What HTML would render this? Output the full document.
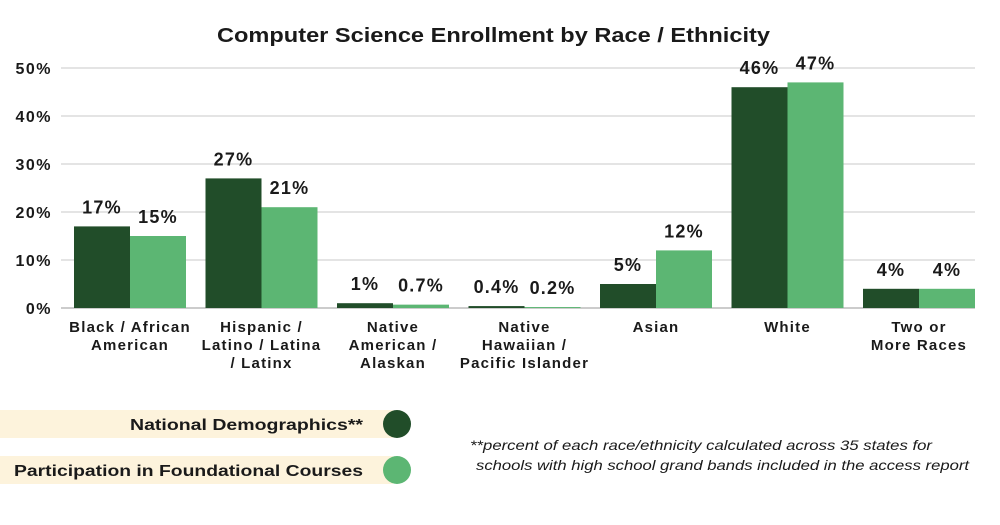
<!DOCTYPE html>
<html><head><meta charset="utf-8"><style>
body{margin:0;background:#fff;font-family:"Liberation Sans",sans-serif}
svg text{font-family:"Liberation Sans",sans-serif;fill:#1a1a1a}
</style></head><body>
<svg width="1000" height="520" id="c">
<text x="217" y="42" textLength="553" lengthAdjust="spacingAndGlyphs" font-size="20" font-weight="bold">Computer Science Enrollment by Race / Ethnicity</text>
<g id="grid"></g><g id="bars"></g><g id="labels"></g>
<g>
<rect x="0" y="410" width="393" height="28" fill="#fdf3dc"/>
<text x="130" y="430" textLength="233" lengthAdjust="spacingAndGlyphs" font-size="16" font-weight="bold">National Demographics**</text>
<circle cx="397" cy="424" r="14" fill="#214d29"/>
<rect x="0" y="456" width="393" height="28" fill="#fdf3dc"/>
<text x="14" y="476" textLength="349" lengthAdjust="spacingAndGlyphs" font-size="16" font-weight="bold">Participation in Foundational Courses</text>
<circle cx="397" cy="470" r="14" fill="#5cb673"/>
</g>
<text x="470" y="450" textLength="462" lengthAdjust="spacingAndGlyphs" font-size="14" font-style="italic">**percent of each race/ethnicity calculated across 35 states for</text>
<text x="476" y="470" textLength="493" lengthAdjust="spacingAndGlyphs" font-size="14" font-style="italic">schools with high school grand bands included in the access report</text>
</svg>
<script>
const categories=[["Black / African","American"],["Hispanic /","Latino / Latina","/ Latinx"],["Native","American /","Alaskan"],["Native","Hawaiian /","Pacific Islander"],["Asian"],["White"],["Two or","More Races"]];
const national=[17,27,1,0.4,5,46,4];
const participation=[15,21,0.7,0.2,12,47,4];
const nationalLabels=["17%","27%","1%","0.4%","5%","46%","4%"];
const participationLabels=["15%","21%","0.7%","0.2%","12%","47%","4%"];
const yTicks=[0,10,20,30,40,50];
const NS="http://www.w3.org/2000/svg";
const y0=308,pxPer=4.8,x0=130,pitch=131.5,bw=56;
const y=v=>y0-v*pxPer;
const xc=i=>x0+i*pitch;
function mk(t,a,p){const e=document.createElementNS(NS,t);for(const k in a)e.setAttribute(k,a[k]);p.appendChild(e);return e;}
const grid=document.getElementById('grid'),bars=document.getElementById('bars'),labels=document.getElementById('labels');
yTicks.forEach(t=>{
const l=mk('line',{x1:61,x2:975,y1:y(t),y2:y(t),stroke:t==0?'#999':'#c8c8c8','stroke-width':1},grid);


const tx=mk('text',{x:52,y:y(t)+6,'text-anchor':'end','font-size':16,'font-weight':'bold','letter-spacing':1.5},grid);
tx.textContent=t+'%';


});
categories.forEach((c,i)=>{
[[national,'#214d29',-bw,nationalLabels,'national'],[participation,'#5cb673',0,participationLabels,'participation']].forEach(([arr,col,off,lab,nm])=>{
const v=arr[i];
const r=mk('rect',{x:xc(i)+off,y:y(v),width:bw,height:v*pxPer,fill:col},bars);


const t=mk('text',{x:xc(i)+off+bw/2,y:y(v)-13,'text-anchor':'middle','font-size':18,'font-weight':'bold',fill:'#333','letter-spacing':1.2},labels);
t.textContent=lab[i];


});
c.forEach((line,j)=>{
const t=mk('text',{x:xc(i),y:332+j*18,'text-anchor':'middle','font-size':15,'font-weight':'bold',fill:'#222','letter-spacing':1.2},labels);
t.textContent=line;


});
});
</script>
</body></html>
